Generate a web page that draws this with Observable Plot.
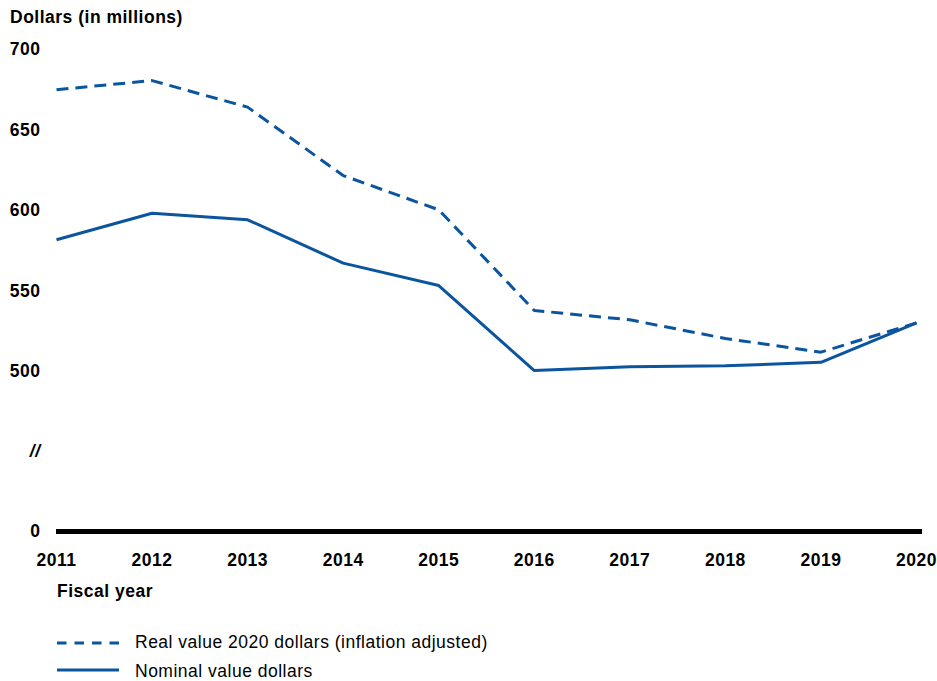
<!DOCTYPE html>
<html>
<head>
<meta charset="utf-8">
<script src="https://cdn.jsdelivr.net/npm/d3@7"></script>
<script src="https://cdn.jsdelivr.net/npm/@observablehq/plot@0.6"></script>
<style>
  body { margin: 0; background: #fff; width: 937px; height: 681px; position: relative; overflow: hidden;
         font-family: "Liberation Sans", Arial, sans-serif; color: #000; }
  .t { position: absolute; font-size: 17.5px; line-height: 1; letter-spacing: 0.5px; white-space: nowrap; }
  .b { font-weight: bold; }
  #chart { position: absolute; left: 0; top: 35px; }
  .sw { position: absolute; left: 57px; width: 62px; height: 6px; overflow: visible; }
</style>
</head>
<body>
<div id="title" class="t b" style="left:10px;top:9px"></div>
<div id="chart"></div>
<div id="xtitle" class="t b" style="left:57px;top:583px"></div>
<div id="legend"></div>
<script>
const titleText = "Dollars (in millions)";
const xTitleText = "Fiscal year";
const years = [2011, 2012, 2013, 2014, 2015, 2016, 2017, 2018, 2019, 2020];
const realValues = [675, 680.7, 664.2, 621.7, 600.4, 537.9, 532.1, 520.5, 512, 530.2];
const nominalValues = [581.8, 598.3, 594.2, 567.3, 553.4, 500.6, 503, 503.5, 505.7, 530.2];
const yTicks = [0, 500, 550, 600, 650, 700];
const yBreakAt = 500;       // axis is broken below this value
const yBreakSqueeze = 0.1988; // share of scale used by the 0–500 stretch
const yMax = 700;
const axisBreak = [{label: "//", value: 250}];
const seriesNames = ["Real value 2020 dollars (inflation adjusted)", "Nominal value dollars"];
const seriesDash = ["12,7", null];
const legendDash = ["9.5,8", null];
const lineColor = "#0b559e";

document.getElementById("title").textContent = titleText;
document.getElementById("xtitle").textContent = xTitleText;

const realData = years.map((y, i) => ({year: y, value: realValues[i]}));
const nominalData = years.map((y, i) => ({year: y, value: nominalValues[i]}));

const brk = v => v >= yBreakAt ? v : yBreakAt - (yBreakAt - v) * yBreakSqueeze;

const chart = Plot.plot({
  width: 937,
  height: 545,
  marginLeft: 56,
  marginRight: 15,
  marginTop: 14,
  marginBottom: 49,
  style: {
    fontFamily: '"Liberation Sans", Arial, sans-serif',
    fontSize: "17.5px",
    fontWeight: "bold",
    letterSpacing: "0.5px",
    color: "#000",
    background: "transparent",
    overflow: "visible"
  },
  x: {domain: [years[0], years[years.length - 1]], range: [56, 916], ticks: years,
      tickFormat: d => String(d), tickSize: 0, tickPadding: 22, label: null},
  y: {transform: brk, domain: [brk(0), yMax], axis: null, label: null},
  marks: [
    Plot.ruleY([0], {stroke: "#000", strokeWidth: 5}),
    Plot.line(realData, {x: "year", y: "value", stroke: lineColor, strokeWidth: 3,
      strokeDasharray: seriesDash[0], strokeLinecap: "butt", strokeLinejoin: "miter"}),
    Plot.line(nominalData, {x: "year", y: "value", stroke: lineColor, strokeWidth: 3,
      strokeLinecap: "butt", strokeLinejoin: "miter"}),
    // y tick labels (drawn as text so they pass through the broken-axis transform)
    Plot.text(yTicks, {frameAnchor: "left", y: d => d, text: d => String(d), textAnchor: "end",
      dx: -16, fill: "#000"}),
    Plot.text(axisBreak, {frameAnchor: "left", y: "value", text: "label", textAnchor: "end",
      dx: -16, fontStyle: "italic", fill: "#000"})
  ]
});
document.getElementById("chart").appendChild(chart);

// legend
const legend = document.getElementById("legend");
const swY = [640, 666.5];
const txtTop = [633.5, 662.5];
seriesNames.forEach((name, i) => {
  const ns = "http://www.w3.org/2000/svg";
  const s = document.createElementNS(ns, "svg");
  s.setAttribute("class", "sw");
  s.setAttribute("width", "62");
  s.setAttribute("height", "6");
  s.style.top = swY[i] + "px";
  const l = document.createElementNS(ns, "line");
  l.setAttribute("x1", "0"); l.setAttribute("x2", "62");
  l.setAttribute("y1", "3"); l.setAttribute("y2", "3");
  l.setAttribute("stroke", lineColor);
  l.setAttribute("stroke-width", "3");
  if (legendDash[i]) l.setAttribute("stroke-dasharray", legendDash[i]);
  s.appendChild(l);
  legend.appendChild(s);
  const d = document.createElement("div");
  d.className = "t";
  d.style.left = "135px";
  d.style.top = txtTop[i] + "px";
  d.textContent = name;
  legend.appendChild(d);
});
</script>
</body>
</html>
